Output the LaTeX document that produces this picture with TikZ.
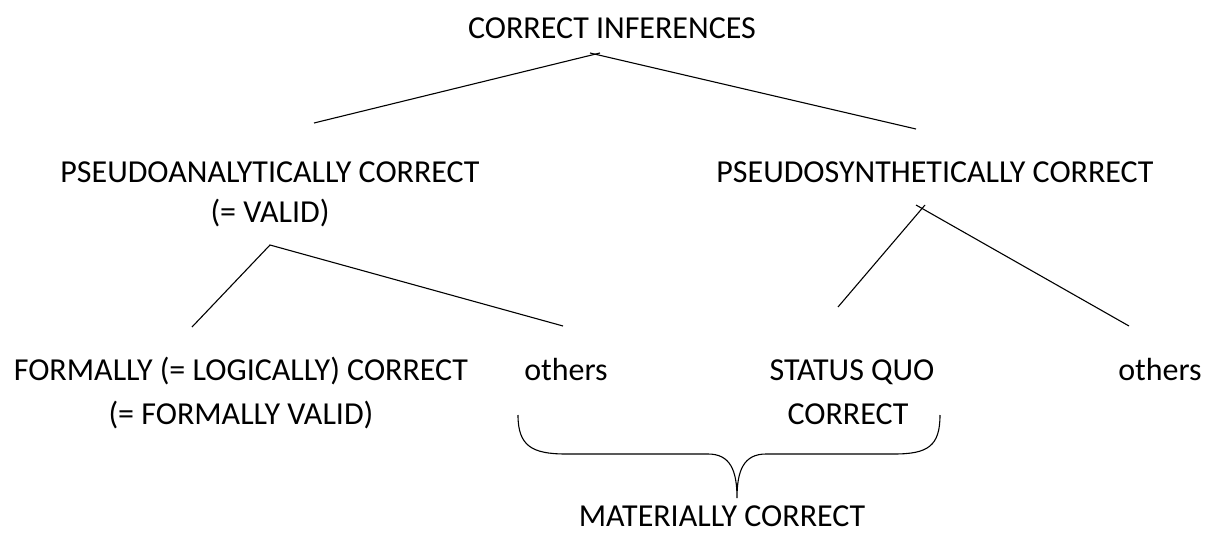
\documentclass[tikz,border=0pt]{standalone}
\usepackage{fontspec}
\setmainfont{Carlito}
\begin{document}
\begin{tikzpicture}[x=1pt,y=-1pt,
  lbl/.style={anchor=base,inner sep=0pt,font=\fontsize{32}{44}\selectfont,align=center},
  edge/.style={draw=black,line width=1.1pt}]
\useasboundingbox (0,0) rectangle (1211,533);
% texts
\node[lbl] (root) at (612,38) {CORRECT INFERENCES};
\node[lbl] (pa) at (270,182) {PSEUDOANALYTICALLY CORRECT};
\node[lbl] (pav) at (270,222) {(= VALID)};
\node[lbl] (ps) at (935,182) {PSEUDOSYNTHETICALLY CORRECT};
\node[lbl] (fc) at (241,380) {FORMALLY (= LOGICALLY) CORRECT};
\node[lbl] (fv) at (241,424) {(= FORMALLY VALID)};
\node[lbl] (o1) at (566,380) {others};
\node[lbl] (sq) at (852,380) {STATUS QUO};
\node[lbl] (sqc) at (848,424) {CORRECT};
\node[lbl] (o2) at (1160,380) {others};
\node[lbl] (mc) at (722,526) {MATERIALLY CORRECT};
% line end points
\coordinate (a0l) at (600,53);
\coordinate (a0r) at (590,53);
\coordinate (a1) at (314,123);
\coordinate (a2) at (916,129);
\coordinate (b0) at (270,245);
\coordinate (b1) at (192,327);
\coordinate (b2) at (563,326);
\coordinate (c0l) at (925,205);
\coordinate (c0r) at (916,205);
\coordinate (c1) at (838,307);
\coordinate (c2) at (1129,326);
\coordinate (bl) at (518,415);
\coordinate (br) at (940,415);
\coordinate (bt) at (737,498);
% tree lines
\draw[edge] (a1) -- (a0l);
\draw[edge] (a0r) -- (a2);
\draw[edge] (b1) -- (b0) -- (b2);
\draw[edge] (c1) -- (c0l);
\draw[edge] (c0r) -- (c2);
% brace
\draw[edge] (bl) .. controls (518,446) and (532,454) .. (566,454)
  -- (708,454) .. controls (730,454) and (737,470) .. (bt)
  .. controls (737,470) and (744,454) .. (766,454)
  -- (894,454) .. controls (928,454) and (940,446) .. (br);
\end{tikzpicture}
\end{document}
